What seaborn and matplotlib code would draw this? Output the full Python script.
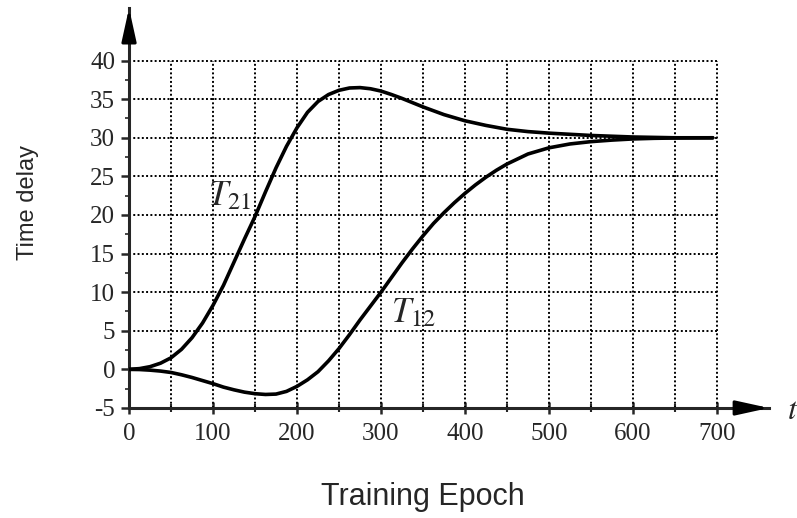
import numpy as np
import pandas as pd
import seaborn as sns
import matplotlib.pyplot as plt

# epochs and the two learned time delays
epoch = [0, 12.5, 25, 37.5, 50, 62.5, 75, 87.5, 100, 112.5, 125, 137.5, 150, 162.5,
         175, 187.5, 200, 212.5, 225, 237.5, 250, 262.5, 275, 287.5, 300, 312.5, 325,
         337.5, 350, 362.5, 375, 387.5, 400, 412.5, 425, 437.5, 450, 475, 500, 525,
         550, 575, 600, 625, 650, 695]
t21 = [0, 0.1, 0.35, 0.8, 1.5, 2.6, 4.1, 6.0, 8.3, 10.9, 13.9, 16.9, 19.8, 23.0,
       26.1, 28.9, 31.3, 33.3, 34.7, 35.6, 36.15, 36.45, 36.5, 36.35, 36.05, 35.6, 35.1,
       34.55, 34.0, 33.5, 33.0, 32.6, 32.2, 31.9, 31.6, 31.35, 31.1, 30.8, 30.6, 30.45,
       30.3, 30.2, 30.1, 30.05, 30.0, 30.0]
t12 = [0, -0.02, -0.1, -0.22, -0.4, -0.7, -1.05, -1.45, -1.85, -2.3, -2.65, -2.95,
       -3.15, -3.25, -3.2, -2.85, -2.2, -1.35, -0.3, 1.1, 2.7, 4.5, 6.4, 8.2, 10.0,
       11.9, 13.8, 15.6, 17.3, 18.9, 20.3, 21.6, 22.8, 23.9, 24.9, 25.8, 26.6, 27.9,
       28.7, 29.2, 29.5, 29.7, 29.85, 29.93, 29.97, 30.0]

df = pd.concat([
    pd.DataFrame({'epoch': epoch, 'delay': t21, 'series': 'T21'}),
    pd.DataFrame({'epoch': epoch, 'delay': t12, 'series': 'T12'}),
])

sns.set_style('ticks')
plt.rcParams['axes.unicode_minus'] = False
plt.rcParams['mathtext.fontset'] = 'stix'

fig = plt.figure(figsize=(7.97, 5.18), dpi=100)
ax = fig.add_axes([0.1619, 0.2124, 0.803, 0.772])

# dotted grid only inside the 0-700 / -5-40 box
ax.vlines(np.arange(50, 701, 50), -5, 40, colors='k', linestyles=(0, (1, 1.2)), lw=1.4, zorder=1)
ax.hlines(np.arange(5, 41, 5), 0, 700, colors='k', linestyles=(0, (1, 1.2)), lw=1.4, zorder=1)

sns.lineplot(data=df, x='epoch', y='delay', hue='series', palette=['k', 'k'],
             lw=2.6, legend=False, ax=ax, zorder=3)
for ln in ax.get_lines():
    ln.set_solid_joinstyle('round')
    ln.set_solid_capstyle('round')

ax.set_xlim(0, 762)
ax.set_ylim(-5, 46.8)
ax.set_xticks(np.arange(0, 701, 100))
ax.set_xticks(np.arange(50, 701, 100), minor=True)
ax.set_yticks(np.arange(-5, 41, 5))
ax.set_yticks(np.arange(-2.5, 40, 5), minor=True)

for s in ['top', 'right']:
    ax.spines[s].set_visible(False)
for s in ['left', 'bottom']:
    ax.spines[s].set_linewidth(2.2)

ax.tick_params(axis='x', which='major', direction='inout', length=9, width=1.8, pad=6)
ax.tick_params(axis='x', which='minor', direction='inout', length=6, width=1.5)
ax.tick_params(axis='y', which='major', direction='out', length=6, width=1.8, pad=4)
ax.tick_params(axis='y', which='minor', direction='out', length=3, width=1.2)
for lab in ax.get_xticklabels() + ax.get_yticklabels():
    lab.set_fontfamily('Liberation Serif')
    lab.set_fontsize(18)

# axis arrows
arrow = dict(arrowstyle='-|>,head_length=1.0,head_width=0.22', color='k',
             lw=2.2, mutation_scale=20, shrinkA=0, shrinkB=0)
ax.annotate('', xy=(1, 0), xytext=(0.95, 0), xycoords='axes fraction',
            arrowprops=arrow, annotation_clip=False)
ax.annotate('', xy=(0, 1), xytext=(0, 0.93), xycoords='axes fraction',
            arrowprops=arrow, annotation_clip=False)

ax.text(94, 21.3, '$T_{21}$', fontsize=25, ha='left', va='baseline')
ax.text(312, 6.1, '$T_{12}$', fontsize=25, ha='left', va='baseline')
ax.text(790, -5.3, '$t$', fontsize=23, ha='center', va='center')

ax.set_xlabel('Training Epoch', fontfamily='Liberation Sans', fontsize=22)
ax.set_ylabel('Time delay', fontfamily=['Liberation Sans Narrow', 'Liberation Sans'],
              fontsize=17)
ax.xaxis.set_label_coords(0.459, -0.185)
ax.yaxis.set_label_coords(-0.14, 0.515)

fig.savefig('out.png', dpi=100)
